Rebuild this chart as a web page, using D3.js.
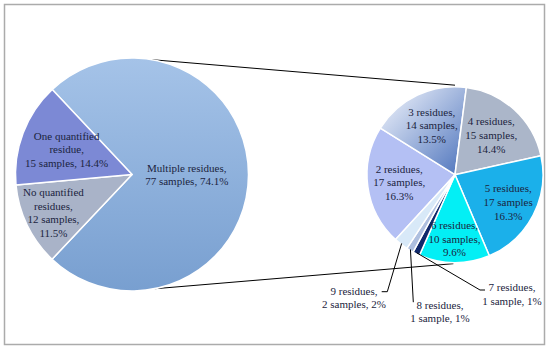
<!DOCTYPE html>
<html>
<head>
<meta charset="utf-8">
<script src="https://cdn.jsdelivr.net/npm/d3@7"></script>
<style>
  body { margin: 0; background: #fff; }
  svg text {
    font-family: "Palatino Linotype", "Book Antiqua", Palatino, "Liberation Serif", serif;
    font-size: 11px;
    fill: #1b2440;
  }
</style>
</head>
<body>
<svg id="chart" width="550" height="354"></svg>
<script>
// Main pie: all samples
const mainCategories = ["Multiple residues", "No quantified residues", "One quantified residue"];
const mainValues = [77, 12, 15];
const mainLabels = [
  ["Multiple residues,", "77 samples, 74.1%"],
  ["No quantified", "residues,", "12 samples,", "11.5%"],
  ["One quantified", "residue,", "15 samples, 14.4%"]
];

// Secondary pie: breakdown of "Multiple residues"
const subCategories = ["2 residues", "3 residues", "4 residues", "5 residues",
  "6 residues", "7 residues", "8 residues", "9 residues"];
const subValues = [17, 14, 15, 17, 10, 1, 1, 2];
const subLabels = [
  ["2 residues,", "17 samples,", "16.3%"],
  ["3 residues,", "14 samples,", "13.5%"],
  ["4 residues,", "15 samples,", "14.4%"],
  ["5 residues,", "17 samples", "16.3%"],
  ["6 residues,", "10 samples,", "9.6%"],
  ["7 residues,", "1 sample, 1%"],
  ["8 residues,", "1 sample, 1%"],
  ["9 residues,", "2 samples, 2%"]
];

// styling / layout
const mainColors = ["url(#gradMulti)", "#a9b3c8", "#7c89d5"];
const subColors = ["#b4c0f4", "url(#gradThree)", "#abb6c9", "#1bb0ea",
  "#03eff5", "#10286a", "#aebfdf", "#d8e9f8"];
const mainLabelR = [0.47, 0.75, 0.6];
const subLabelR = [0.64, 0.62, 0.61, 0.68, 0.73];
const lineH = 13.6;
const deg = Math.PI / 180;

const svg = d3.select("#chart");

// frame
svg.append("rect")
  .attr("x", 4.5).attr("y", 4.5)
  .attr("width", 540).attr("height", 340)
  .attr("fill", "#fff")
  .attr("stroke", "#ababab")
  .attr("stroke-width", 1.5);

const defs = svg.append("defs");
const gM = defs.append("linearGradient").attr("id", "gradMulti")
  .attr("x1", 0).attr("y1", 0).attr("x2", 0).attr("y2", 1);
gM.append("stop").attr("offset", 0).attr("stop-color", "#a5c3e8");
gM.append("stop").attr("offset", 1).attr("stop-color", "#789fd0");
const g3 = defs.append("linearGradient").attr("id", "gradThree")
  .attr("x1", 0).attr("y1", 0.1).attr("x2", 0.9).attr("y2", 1);
g3.append("stop").attr("offset", 0).attr("stop-color", "#eef2fb");
g3.append("stop").attr("offset", 1).attr("stop-color", "#5479bf");

// geometry
const main = { cx: 132, cy: 174.5, r: 116.5 };
const sub = { cx: 455, cy: 174.7, r: 88 };

const polar = (c, a, r) => [c.cx + r * Math.sin(a), c.cy - r * Math.cos(a)];

// connector lines between the pies
const conn = [
  [polar(main, 9.6 * deg, main.r), polar(sub, 0, sub.r + 1.5)],
  [polar(main, 168.7 * deg, main.r), polar(sub, 181 * deg, sub.r + 1)]
];
svg.selectAll(".conn").data(conn).enter().append("line")
  .attr("class", "conn")
  .attr("x1", d => d[0][0]).attr("y1", d => d[0][1])
  .attr("x2", d => d[1][0]).attr("y2", d => d[1][1])
  .attr("stroke", "#000").attr("stroke-width", 1);

function drawPie(c, values, colors, startDeg) {
  const pie = d3.pie().sort(null)
    .startAngle(startDeg * deg).endAngle((startDeg + 360) * deg);
  const arcs = pie(values);
  const arc = d3.arc().innerRadius(0).outerRadius(c.r);
  const g = svg.append("g").attr("transform", `translate(${c.cx},${c.cy})`);
  g.selectAll("path").data(arcs).enter().append("path")
    .attr("d", arc)
    .attr("fill", (d, i) => colors[i])
    .attr("stroke", "#fff")
    .attr("stroke-width", 1.5)
    .attr("stroke-linejoin", "round");
  return arcs;
}

function drawLabel(x, y, lines) {
  const t = svg.append("text").attr("text-anchor", "middle");
  const y0 = y - (lines.length - 1) / 2 * lineH;
  lines.forEach((s, i) => {
    t.append("tspan").attr("x", x).attr("y", y0 + i * lineH).attr("dy", "0.35em").text(s);
  });
}

const mainArcs = drawPie(main, mainValues, mainColors, -43.2);
const subArcs = drawPie(sub, subValues, subColors, -137.5);

mainArcs.forEach((a, i) => {
  const m = (a.startAngle + a.endAngle) / 2;
  const p = polar(main, m, main.r * mainLabelR[i]);
  drawLabel(p[0], p[1], mainLabels[i]);
});

subArcs.forEach((a, i) => {
  if (i > 4) return;
  const m = (a.startAngle + a.endAngle) / 2;
  const p = polar(sub, m, sub.r * subLabelR[i]);
  drawLabel(p[0], p[1], subLabels[i]);
});

// small slices: labels outside with leader lines (offsets from pie centre)
const outside = [
  { i: 5, label: [57, 119.5], path: [[25, 115.3], [30, 115.3]] },
  { i: 6, label: [-15, 137], path: [[-41.7, 127.5]] },
  { i: 7, label: [-101, 123], path: [[-67.7, 117], [-73.3, 117]] }
];
outside.forEach(o => {
  const a = subArcs[o.i];
  const m = (a.startAngle + a.endAngle) / 2;
  const pts = [polar(sub, m, sub.r - 1)].concat(o.path.map(p => [sub.cx + p[0], sub.cy + p[1]]));
  svg.append("path")
    .attr("d", d3.line()(pts))
    .attr("fill", "none")
    .attr("stroke", "#000")
    .attr("stroke-width", 1);
  drawLabel(sub.cx + o.label[0], sub.cy + o.label[1], subLabels[o.i]);
});
</script>
</body>
</html>
